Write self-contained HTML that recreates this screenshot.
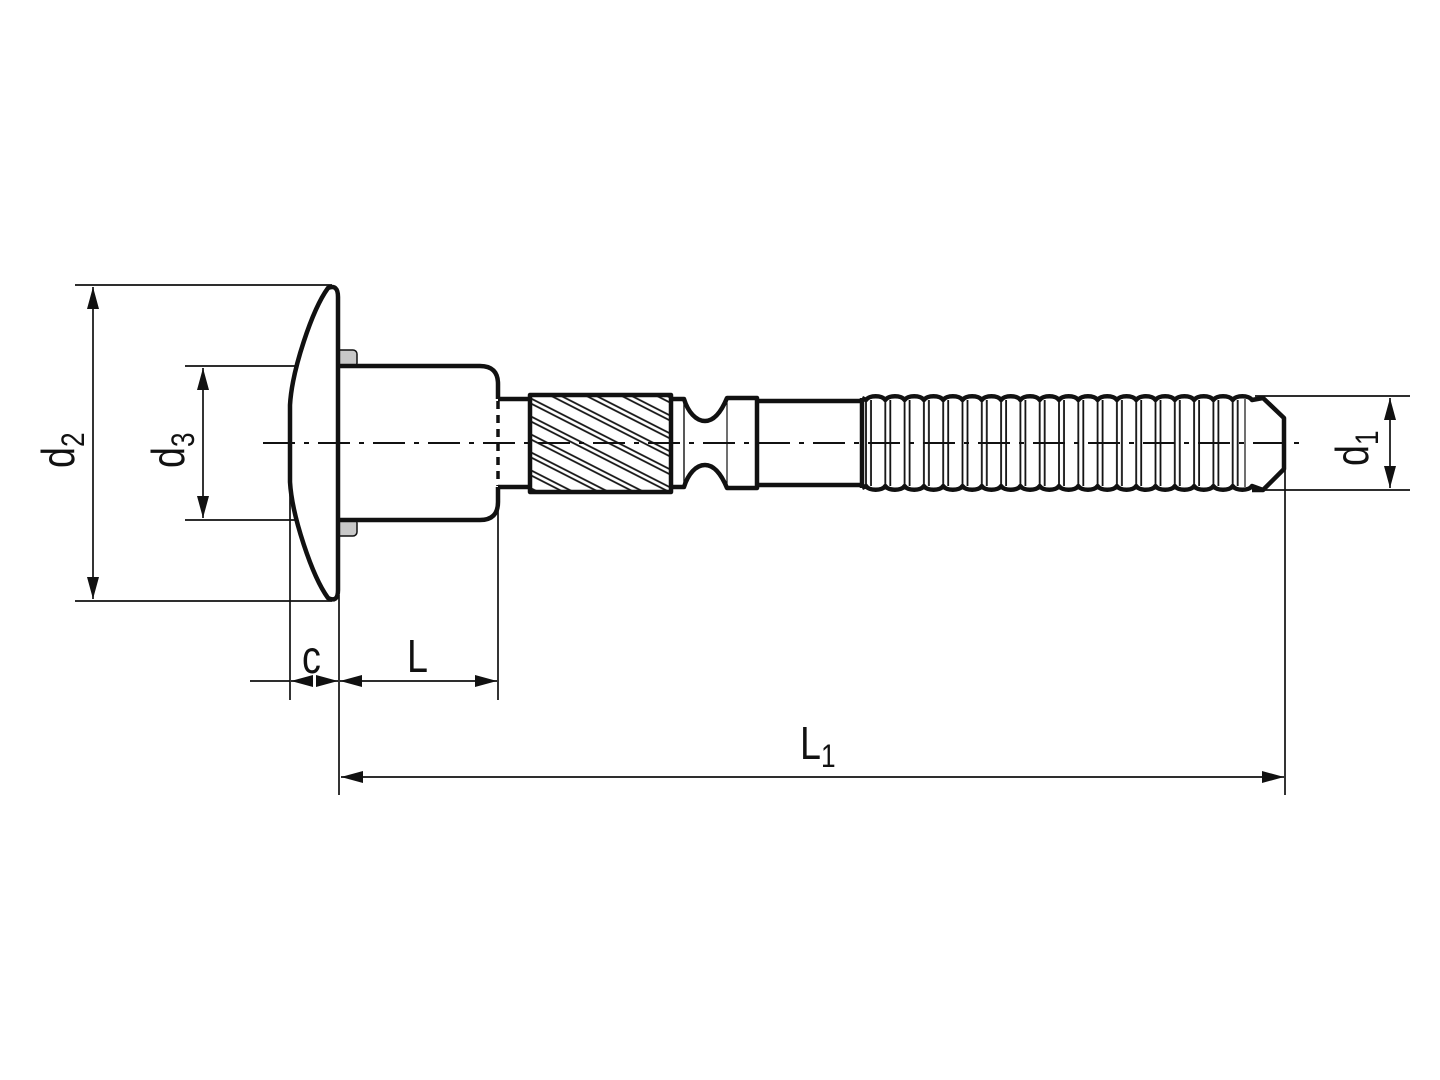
<!DOCTYPE html>
<html><head><meta charset="utf-8"><style>
html,body{margin:0;padding:0;background:#fff;}
svg{display:block}
text{font-family:"Liberation Sans",sans-serif;fill:#111}
</style></head><body>
<svg width="1440" height="1080" viewBox="0 0 1440 1080" xmlns="http://www.w3.org/2000/svg">
<defs>
<marker id="a" viewBox="0 0 22 12" refX="22" refY="6" markerWidth="22" markerHeight="12" markerUnits="userSpaceOnUse" orient="auto-start-reverse"><path d="M0,0 L22,6 L0,12 Z" fill="#111"/></marker>
<pattern id="hatch" patternUnits="userSpaceOnUse" width="40" height="16" patternTransform="rotate(27)">
<line x1="0" y1="2" x2="40" y2="2" stroke="#111" stroke-width="1.8"/>
<line x1="0" y1="6.5" x2="40" y2="6.5" stroke="#111" stroke-width="1.8"/>
</pattern>
<pattern id="grv" patternUnits="userSpaceOnUse" x="865" y="0" width="19.3" height="10">
<line x1="1" y1="0" x2="1" y2="10" stroke="#111" stroke-width="1.8"/>
<line x1="6" y1="0" x2="6" y2="10" stroke="#111" stroke-width="1.8"/>
</pattern>
</defs>

<g stroke="#111" stroke-width="1.7" fill="none">
<line x1="75" y1="285" x2="332" y2="285"/>
<line x1="75" y1="601" x2="332" y2="601"/>
<line x1="185" y1="366" x2="340" y2="366"/>
<line x1="185" y1="520" x2="340" y2="520"/>
<line x1="1255" y1="396" x2="1410" y2="396"/>
<line x1="1255" y1="490" x2="1410" y2="490"/>
<line x1="290" y1="400" x2="290" y2="700"/>
<line x1="339" y1="595" x2="339" y2="795"/>
<line x1="498" y1="487" x2="498" y2="700"/>
<line x1="1285" y1="445" x2="1285" y2="795"/>
<line x1="727" y1="400" x2="727" y2="486" stroke-width="1.2"/>
<line x1="1245" y1="399" x2="1245" y2="487" stroke-width="1.2"/>
</g>

<g stroke="#111" stroke-width="1.7" fill="none">
<line x1="93" y1="287" x2="93" y2="599" marker-start="url(#a)" marker-end="url(#a)"/>
<line x1="203" y1="368" x2="203" y2="518" marker-start="url(#a)" marker-end="url(#a)"/>
<line x1="1390" y1="398" x2="1390" y2="488" marker-start="url(#a)" marker-end="url(#a)"/>
<line x1="250" y1="681" x2="290" y2="681"/>
<line x1="312" y1="681" x2="291" y2="681" marker-end="url(#a)"/>
<line x1="316" y1="681" x2="338" y2="681" marker-end="url(#a)"/>
<line x1="340" y1="681" x2="497" y2="681" marker-start="url(#a)" marker-end="url(#a)"/>
<line x1="341" y1="777" x2="1284" y2="777" marker-start="url(#a)" marker-end="url(#a)"/>
</g>

<rect x="336" y="350" width="21" height="17" rx="4" fill="#c8c8c8" stroke="#111" stroke-width="1.5"/>
<rect x="336" y="519" width="21" height="17" rx="4" fill="#c8c8c8" stroke="#111" stroke-width="1.5"/>

<g stroke="#111" stroke-width="4.5" fill="none" stroke-linejoin="round">
<path d="M338,297 Q338,284 328,288 C312,310 292,370 290,405 L290,482 C292,516 312,576 328,598 Q338,603 338,590 Z" fill="#fff"/>
<path d="M340,366 L480,366 Q498,366 498,384 L498,399 M498,487 L498,502 Q498,520 480,520 L340,520"/>
<path d="M498,399 L530,399 M498,487 L530,487"/>
<rect x="530" y="395" width="141" height="97" fill="url(#hatch)"/>
<path d="M671,399 L684,399 C688,412 696,421 705,421 C715,421 722,410 727,398 L757,398 L757,488 L727,488 C722,476 715,465 705,465 C696,465 688,474 684,487 L671,487"/>
<line x1="684" y1="399" x2="684" y2="487" stroke-width="1.4"/>
<path d="M757,401 L862,401 M757,485 L862,485"/>
<path d="M862,398 L866,400 c3,-5 16.3,-5 19.3,0 c3,-5 16.3,-5 19.3,0 c3,-5 16.3,-5 19.3,0 c3,-5 16.3,-5 19.3,0 c3,-5 16.3,-5 19.3,0 c3,-5 16.3,-5 19.3,0 c3,-5 16.3,-5 19.3,0 c3,-5 16.3,-5 19.3,0 c3,-5 16.3,-5 19.3,0 c3,-5 16.3,-5 19.3,0 c3,-5 16.3,-5 19.3,0 c3,-5 16.3,-5 19.3,0 c3,-5 16.3,-5 19.3,0 c3,-5 16.3,-5 19.3,0 c3,-5 16.3,-5 19.3,0 c3,-5 16.3,-5 19.3,0 c3,-5 16.3,-5 19.3,0 c3,-5 16.3,-5 19.3,0 c3,-5 16.3,-5 19.3,0 c3,-5 16.3,-5 19.3,0 L1263,398 L1284,418 L1284,469 L1263,490 L1252,490"/>
<path d="M862,488 L866,486 c3,5 16.3,5 19.3,0 c3,5 16.3,5 19.3,0 c3,5 16.3,5 19.3,0 c3,5 16.3,5 19.3,0 c3,5 16.3,5 19.3,0 c3,5 16.3,5 19.3,0 c3,5 16.3,5 19.3,0 c3,5 16.3,5 19.3,0 c3,5 16.3,5 19.3,0 c3,5 16.3,5 19.3,0 c3,5 16.3,5 19.3,0 c3,5 16.3,5 19.3,0 c3,5 16.3,5 19.3,0 c3,5 16.3,5 19.3,0 c3,5 16.3,5 19.3,0 c3,5 16.3,5 19.3,0 c3,5 16.3,5 19.3,0 c3,5 16.3,5 19.3,0 c3,5 16.3,5 19.3,0 c3,5 16.3,5 19.3,0 L1263,490"/>
<line x1="862" y1="398" x2="862" y2="488"/>
</g>
<rect x="864" y="400" width="384" height="86" fill="url(#grv)"/>

<line x1="498" y1="401" x2="498" y2="486" stroke="#111" stroke-width="3.5" stroke-dasharray="8,6"/>
<line x1="263" y1="443" x2="1308" y2="443" stroke="#111" stroke-width="2" stroke-dasharray="32,9,5,9"/>

<g font-size="46">
<text transform="translate(74,468) rotate(-90) scale(0.82,1)">d<tspan font-size="32" dy="10">2</tspan></text>
<text transform="translate(184,468) rotate(-90) scale(0.82,1)">d<tspan font-size="32" dy="10">3</tspan></text>
<text transform="translate(1368,466) rotate(-90) scale(0.82,1)">d<tspan font-size="32" dy="10">1</tspan></text>
<text transform="translate(302,673) scale(0.82,1)">c</text>
<text transform="translate(407,672) scale(0.82,1)">L</text>
<text transform="translate(800,759) scale(0.82,1)">L<tspan font-size="32" dy="8">1</tspan></text>
</g>
</svg>
</body></html>
